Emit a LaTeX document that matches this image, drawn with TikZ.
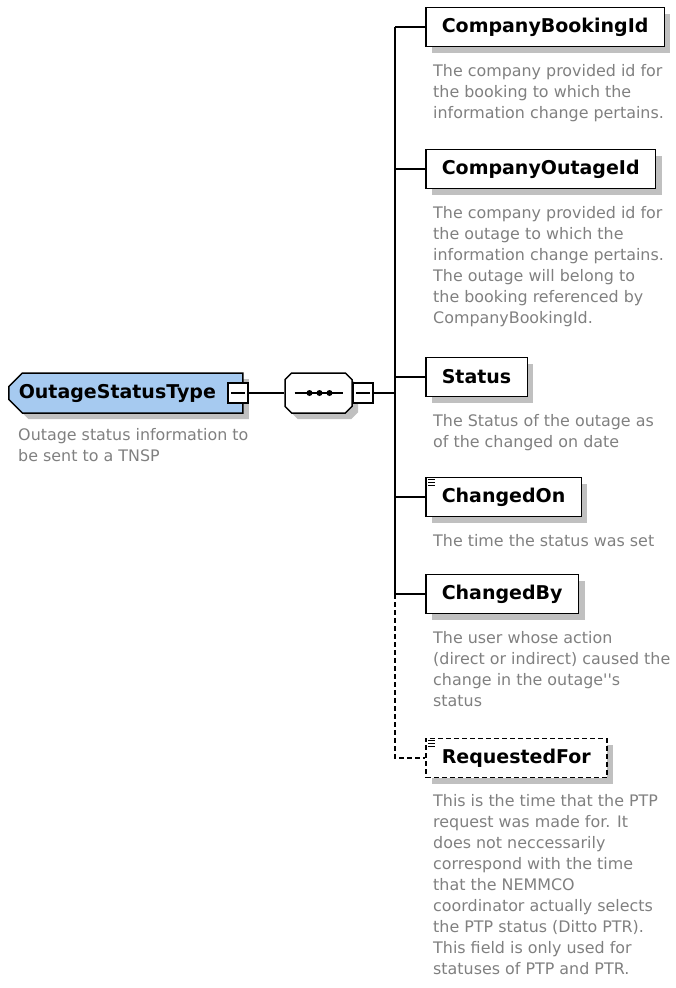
\documentclass[tikz,border=0pt]{standalone}
\usepackage{fontspec}
\setmainfont{DejaVu Sans}
\usetikzlibrary{positioning,shapes.misc,shadows}

\definecolor{typeblue}{RGB}{166,202,240}
\definecolor{shadegray}{RGB}{192,192,192}
\definecolor{docgray}{RGB}{128,128,128}

\begin{document}
\begin{tikzpicture}[
            x=1pt,y=-1pt,
            wire/.style={line width=1.3pt},
            shade/.style={drop shadow={shadow xshift=6pt,shadow yshift=-6pt,opacity=1,fill=shadegray}},
            elem/.style={rectangle,draw,line width=1.5pt,fill=white,shade,anchor=west,inner xsep=16pt,minimum height=39pt,font=\fontsize{19}{22}\selectfont\bfseries},
            optelem/.style={elem,dash pattern=on 5pt off 3pt},
            ctype/.style={chamfered rectangle,chamfered rectangle corners={north west,south west},chamfered rectangle xsep=10pt,draw,line width=1.5pt,fill=typeblue,shade,inner xsep=0pt,minimum width=234pt,minimum height=40pt,text width=214pt,align=left,font=\fontsize{19}{22}\selectfont\bfseries},
            seqbox/.style={chamfered rectangle,chamfered rectangle xsep=10pt,draw,line width=1.5pt,fill=white,shade,minimum width=67pt,minimum height=40pt},
            minus/.style={rectangle,draw,line width=1.3pt,fill=white,minimum size=20pt,inner sep=0pt},
            doc/.style={anchor=north west,inner sep=0pt,align=left,text=docgray,font=\fontsize{15.9}{21}\selectfont},
            simple/.style={line width=0.8pt}
        ]
            \useasboundingbox (0,0) rectangle (676,988);

            % complex type and its sequence
            \node[ctype,anchor=west] (otype) at (8,393) {OutageStatusType};
            \node[minus] (tminus) at (238,393) {};
            \draw[wire] ([xshift=-7pt]tminus.center) -- ([xshift=7pt]tminus.center);
            \node[doc,below=22pt of otype.south west,xshift=3pt,anchor=north west] (otypedoc) {Outage status information to\\be sent to a TNSP};

            \node[seqbox] (seq) at (318.5,393) {};
            \draw[wire] ([xshift=-24pt]seq.center) -- ([xshift=24pt]seq.center);
            \foreach \dx in {-9,1,11}
                \fill ([xshift=\dx pt]seq.center) circle (3pt);
            \node[minus] (sminus) at (363,393) {};
            \draw[wire] ([xshift=-7pt]sminus.center) -- ([xshift=7pt]sminus.center);
            \coordinate (bus) at (395,393);

            % child elements
            \node[elem] (bookid) at (425,27) {CompanyBookingId};
            \node[elem] (outid) at (425,169) {CompanyOutageId};
            \node[elem] (status) at (425,377) {Status};
            \node[elem] (chon) at (425,497) {ChangedOn};
            \node[elem] (chby) at (425,594) {ChangedBy};
            \node[optelem] (reqfor) at (425,758) {RequestedFor};

            \foreach \n in {chon,reqfor}
                \foreach \k in {0,1,2}
                    \draw[simple] ([xshift=3pt,yshift={-(3+2.6*\k)*1pt}]\n.north west) -- ++(7,0);

            \node[doc,below=17pt of bookid.south west,xshift=8pt,anchor=north west] (bookiddoc) {The company provided id for\\the booking to which the\\information change pertains.};
            \node[doc,below=17pt of outid.south west,xshift=8pt,anchor=north west] (outiddoc) {The company provided id for\\the outage to which the\\information change pertains.\\The outage will belong to\\the booking referenced by\\CompanyBookingId.};
            \node[doc,below=17pt of status.south west,xshift=8pt,anchor=north west] (statusdoc) {The Status of the outage as\\of the changed on date};
            \node[doc,below=17pt of chon.south west,xshift=8pt,anchor=north west] (chondoc) {The time the status was set};
            \node[doc,below=17pt of chby.south west,xshift=8pt,anchor=north west] (chbydoc) {The user whose action\\(direct or indirect) caused the\\change in the outage\textquotesingle\textquotesingle s\\status};
            \node[doc,below=16pt of reqfor.south west,xshift=8pt,anchor=north west] (reqfordoc) {This is the time that the PTP\\request was made for. It\\does not neccessarily\\correspond with the time\\that the NEMMCO\\coordinator actually selects\\the PTP status (Ditto PTR).\\This field is only used for\\statuses of PTP and PTR.};

            % connectors
            \draw[wire] (tminus) -- (seq);
            \draw[wire] (seq) -- (sminus);
            \draw[wire] (sminus) -- (bus);
            \draw[wire] (bookid.west -| bus) -- (chby.west -| bus);
            \draw[wire,dash pattern=on 5pt off 3pt] (chby.west -| bus) -- (reqfor.west -| bus) -- (reqfor);
            \foreach \n in {bookid,outid,status,chon,chby}
                \draw[wire] (\n.west -| bus) -- (\n);
        \end{tikzpicture}
\end{document}
